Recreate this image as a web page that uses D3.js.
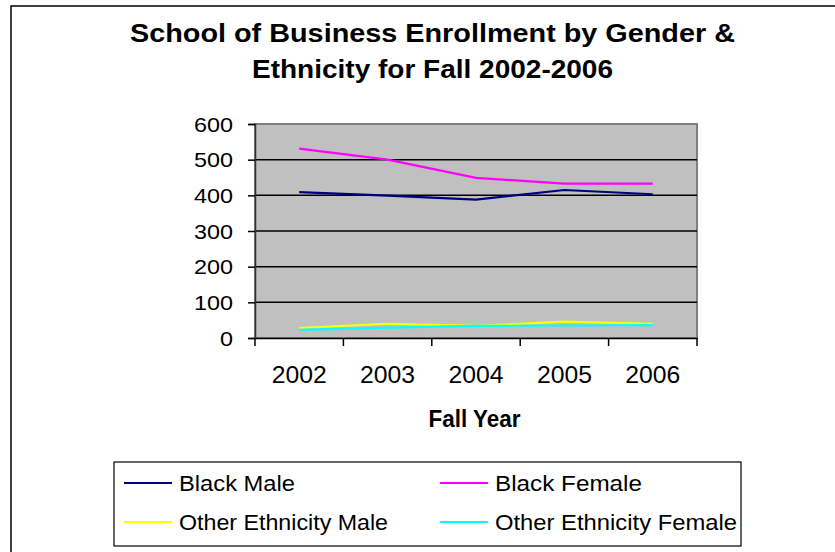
<!DOCTYPE html>
<html><head><meta charset="utf-8">
<script src="https://cdn.jsdelivr.net/npm/d3@7"></script>
<style>body{margin:0;background:#fff}svg{display:block}text{font-family:"Liberation Sans",Arial,sans-serif}</style>
</head><body>
<script>
const years = ["2002","2003","2004","2005","2006"];
const blackMale = [409, 399, 388, 415, 403];
const blackFemale = [531, 500, 449, 433, 433];
const otherMale = [28, 40, 34, 46, 40];
const otherFemale = [23, 29, 34, 35, 36];
const seriesNames = ["Black Male","Black Female","Other Ethnicity Male","Other Ethnicity Female"];
const seriesColors = ["#000080","#FF00FF","#FFFF00","#00FFFF"];
const yTicks = [0,100,200,300,400,500,600];
const titleLines = ["School of Business Enrollment by Gender &","Ethnicity for Fall 2002-2006"];
const xTitle = "Fall Year";

const seriesValues = [blackMale, blackFemale, otherMale, otherFemale];
const W = 835, H = 552;
const svg = d3.select("body").append("svg").attr("width", W).attr("height", H);

// outer chart border
svg.append("rect").attr("x", 11).attr("y", 6).attr("width", 840).attr("height", 560)
  .attr("fill", "#fff").attr("stroke", "#000").attr("stroke-width", 1.5);

// title
const tl = [{t: titleLines[0], y: 42, w: 605}, {t: titleLines[1], y: 78, w: 361}];
svg.selectAll("text.title").data(tl).enter().append("text").attr("class","title")
  .attr("x", 432.5).attr("y", d => d.y).attr("text-anchor","middle")
  .attr("font-size", 25.5).attr("font-weight","bold")
  .attr("textLength", d => d.w).attr("lengthAdjust","spacingAndGlyphs")
  .text(d => d.t);

const L = 255, R = 697, T = 124, B = 338;
const x = d3.scaleBand().domain(years).range([L, R]).padding(0);
const y = d3.scaleLinear().domain([0, 600]).range([B, T]);

// plot area
svg.append("rect").attr("x", L).attr("y", T).attr("width", R - L).attr("height", B - T)
  .attr("fill", "#C0C0C0").attr("stroke", "#808080").attr("stroke-width", 2);

// gridlines
svg.append("g").selectAll("line").data(yTicks.filter(v => v > 0 && v < 600)).enter().append("line")
  .attr("x1", L).attr("x2", R).attr("y1", d => y(d)).attr("y2", d => y(d))
  .attr("stroke", "#000").attr("stroke-width", 1.5);

// y axis
const yAxis = svg.append("g").attr("transform", `translate(${L},0)`)
  .call(d3.axisLeft(y).tickValues(yTicks).tickSize(7).tickPadding(0).tickFormat(d3.format("d")));
yAxis.select(".domain").attr("stroke", "#333").attr("stroke-width", 1.5);
yAxis.selectAll(".tick line").attr("stroke", "#000").attr("stroke-width", 1.5);
yAxis.selectAll(".tick text").attr("x", -22).attr("dy", null).attr("y", 7)
  .attr("font-size", 21).attr("fill", "#000").attr("font-family", null)
  .attr("textLength", d => d === 0 ? 13 : 39).attr("lengthAdjust","spacingAndGlyphs");

// x axis
const xAxis = svg.append("g").attr("transform", `translate(0,${B})`)
  .call(d3.axisBottom(x).tickSize(0).tickPadding(0));
xAxis.select(".domain").attr("stroke", "#000").attr("stroke-width", 1.5);
xAxis.selectAll(".tick text").attr("y", 44.7).attr("dy", null)
  .attr("font-size", 23).attr("fill", "#000").attr("font-family", null)
  .attr("textLength", 55).attr("lengthAdjust","spacingAndGlyphs");
// category boundary ticks
const bounds = years.map(d => x(d)).concat([x(years[years.length-1]) + x.bandwidth()]);
xAxis.append("g").selectAll("line").data(bounds).enter().append("line")
  .attr("x1", d => d).attr("x2", d => d).attr("y1", 0).attr("y2", 8)
  .attr("stroke", "#000").attr("stroke-width", 1.5);

// x title
svg.append("text").attr("x", 474.5).attr("y", 427).attr("text-anchor","middle")
  .attr("font-size", 23).attr("font-weight","bold")
  .attr("textLength", 92).attr("lengthAdjust","spacingAndGlyphs").text(xTitle);

// lines
const line = d3.line().x((d, i) => x(years[i]) + x.bandwidth() / 2).y(d => y(d));
svg.append("g").selectAll("path").data(seriesValues).enter().append("path")
  .attr("d", d => line(d)).attr("fill", "none")
  .attr("stroke", (d, i) => seriesColors[i]).attr("stroke-width", 2.2);

// legend
svg.append("rect").attr("x", 114).attr("y", 462).attr("width", 627).attr("height", 84)
  .attr("fill", "#fff").attr("stroke", "#000").attr("stroke-width", 1.2);
const legPos = [
  {lx: 124, ty: 483, w: 116},
  {lx: 440, ty: 483, w: 147},
  {lx: 124, ty: 522, w: 209},
  {lx: 440, ty: 522, w: 242}
];
const leg = svg.append("g").selectAll("g").data(seriesNames).enter().append("g");
leg.append("line").attr("x1", (d, i) => legPos[i].lx).attr("x2", (d, i) => legPos[i].lx + 48)
  .attr("y1", (d, i) => legPos[i].ty).attr("y2", (d, i) => legPos[i].ty)
  .attr("stroke", (d, i) => seriesColors[i]).attr("stroke-width", 2.2);
leg.append("text").attr("x", (d, i) => legPos[i].lx + 55).attr("y", (d, i) => legPos[i].ty + 8)
  .attr("font-size", 21.5)
  .attr("textLength", (d, i) => legPos[i].w).attr("lengthAdjust","spacingAndGlyphs")
  .text(d => d);
</script>
</body></html>
